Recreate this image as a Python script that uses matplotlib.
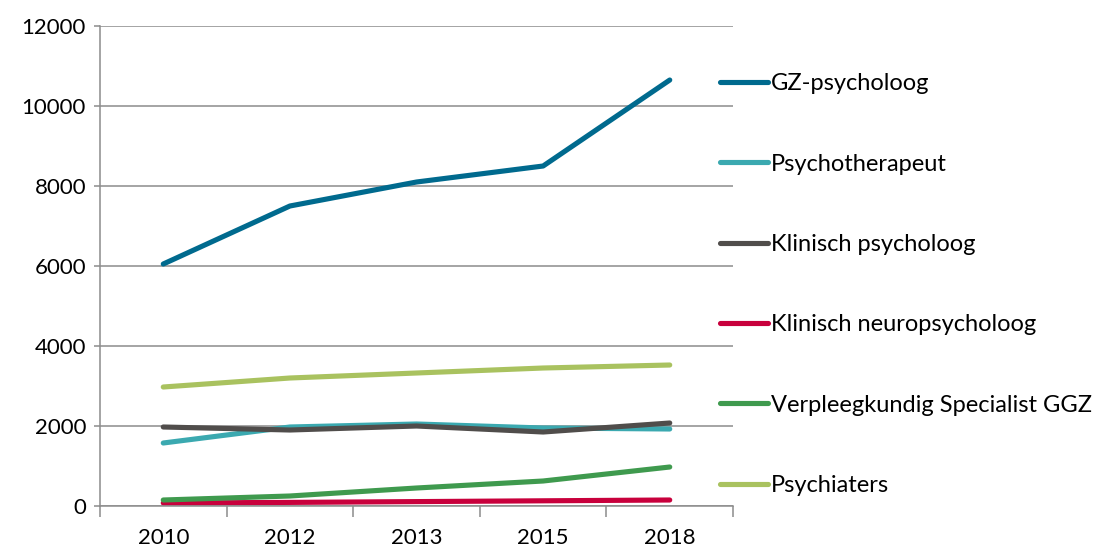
import matplotlib.pyplot as plt
from matplotlib.ticker import FixedLocator

plt.rcParams['font.family'] = ['Lato', 'DejaVu Sans']

# Data
years = ['2010', '2012', '2013', '2015', '2018']
gz_psycholoog = [6050, 7500, 8100, 8500, 10650]
psychotherapeut = [1575, 1975, 2050, 1950, 1925]
klinisch_psycholoog = [1975, 1900, 2000, 1850, 2075]
klinisch_neuro = [75, 90, 110, 130, 150]
verpleegkundig = [150, 250, 450, 625, 975]
psychiaters = [2975, 3200, 3325, 3450, 3525]

series = [
    ('GZ-psycholoog', gz_psycholoog, '#006A8E'),
    ('Psychotherapeut', psychotherapeut, '#3BA9B0'),
    ('Klinisch psycholoog', klinisch_psycholoog, '#504D4B'),
    ('Klinisch neuropsycholoog', klinisch_neuro, '#C8003C'),
    ('Verpleegkundig Specialist GGZ', verpleegkundig, '#3F9A4E'),
    ('Psychiaters', psychiaters, '#A9C25F'),
]

fig = plt.figure(figsize=(11.07, 5.5), dpi=100)
ax = fig.add_axes([0.0903, 0.08, 0.5719, 0.8727])

x = list(range(len(years)))
for name, vals, color in series:
    ax.plot(x, vals, color=color, lw=3.7, solid_capstyle='round',
            solid_joinstyle='round', label=name)

grid_color = '#8C8C8C'
ax.set_ylim(0, 12000)
ax.set_yticks(range(0, 12001, 2000))
ax.set_xlim(-0.5, len(years) - 0.5)
ax.set_xticks(x)
ax.set_xticklabels(years)
ax.xaxis.set_minor_locator(FixedLocator([i - 0.5 for i in range(len(years) + 1)]))
ax.tick_params(axis='x', which='major', length=0, pad=16, labelsize=16)
ax.tick_params(axis='x', which='minor', length=8, width=1.1, color=grid_color)
ax.tick_params(axis='y', length=4, width=1.1, color=grid_color, labelsize=16, pad=6)

ax.yaxis.grid(True, color=grid_color, lw=1.1)
ax.set_axisbelow(True)
for side in ['top', 'right']:
    ax.spines[side].set_visible(False)
for side in ['left', 'bottom']:
    ax.spines[side].set_color(grid_color)
    ax.spines[side].set_linewidth(1.1)

leg = fig.legend(loc='upper left', bbox_to_anchor=(0.6415, 0.8836), frameon=False,
                 fontsize=17, handlelength=2.05, handletextpad=0.12,
                 labelspacing=2.51, borderaxespad=0)

fig.savefig('out.png', dpi=100)
